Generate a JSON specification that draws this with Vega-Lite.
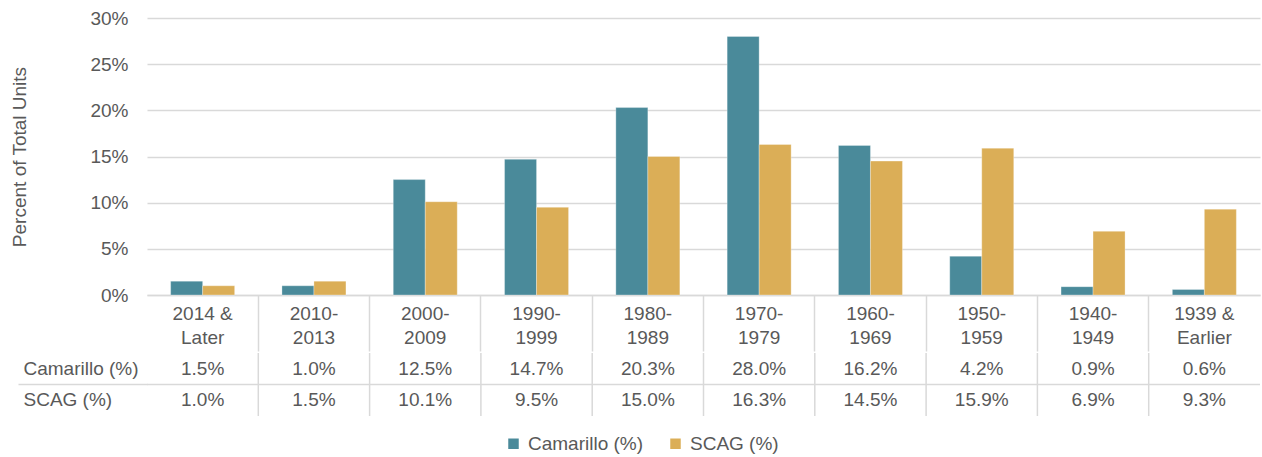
{
  "$schema": "https://vega.github.io/schema/vega-lite/v6.json",
  "padding": {"left": 10, "top": 9, "right": 0, "bottom": 0},
  "background": "white",
  "config": {"view": {"stroke": null}, "font": "Liberation Sans"},
  "data": {"values": [
    {"period": "2014 & Later", "series": "Camarillo (%)", "value": 0.015},
    {"period": "2010-2013", "series": "Camarillo (%)", "value": 0.010},
    {"period": "2000-2009", "series": "Camarillo (%)", "value": 0.125},
    {"period": "1990-1999", "series": "Camarillo (%)", "value": 0.147},
    {"period": "1980-1989", "series": "Camarillo (%)", "value": 0.203},
    {"period": "1970-1979", "series": "Camarillo (%)", "value": 0.280},
    {"period": "1960-1969", "series": "Camarillo (%)", "value": 0.162},
    {"period": "1950-1959", "series": "Camarillo (%)", "value": 0.042},
    {"period": "1940-1949", "series": "Camarillo (%)", "value": 0.009},
    {"period": "1939 & Earlier", "series": "Camarillo (%)", "value": 0.006},
    {"period": "2014 & Later", "series": "SCAG (%)", "value": 0.010},
    {"period": "2010-2013", "series": "SCAG (%)", "value": 0.015},
    {"period": "2000-2009", "series": "SCAG (%)", "value": 0.101},
    {"period": "1990-1999", "series": "SCAG (%)", "value": 0.095},
    {"period": "1980-1989", "series": "SCAG (%)", "value": 0.150},
    {"period": "1970-1979", "series": "SCAG (%)", "value": 0.163},
    {"period": "1960-1969", "series": "SCAG (%)", "value": 0.145},
    {"period": "1950-1959", "series": "SCAG (%)", "value": 0.159},
    {"period": "1940-1949", "series": "SCAG (%)", "value": 0.069},
    {"period": "1939 & Earlier", "series": "SCAG (%)", "value": 0.093}
  ]},
  "spacing": 0,
  "resolve": {"scale": {"x": "independent", "y": "independent", "color": "shared"}, "legend": {"color": "shared"}},
  "vconcat": [
    {
      "width": 1113,
      "height": 277,
      "mark": {"type": "bar", "stroke": "white", "strokeWidth": 0.5, "strokeOpacity": 0.6},
      "encoding": {
        "x": {
          "field": "period", "type": "nominal",
          "sort": ["2014 & Later", "2010-2013", "2000-2009", "1990-1999", "1980-1989", "1970-1979", "1960-1969", "1950-1959", "1940-1949", "1939 & Earlier"],
          "scale": {"paddingInner": 0, "paddingOuter": 0},
          "axis": {
            "title": null,
            "labelExpr": "length(datum.label) > 9 ? [substring(datum.label, 0, 6), substring(datum.label, 7)] : [substring(datum.label, 0, 5), substring(datum.label, 5)]",
            "labelAngle": 0, "labelFontSize": 19, "labelColor": "#595959", "labelLineHeight": 24,
            "labelPadding": -47, "labelOverlap": false,
            "bandPosition": 0, "tickSize": 56, "tickColor": "#d9d9d9", "tickWidth": 1.5,
            "tickOpacity": {"condition": {"test": "datum.value === '2014 & Later'", "value": 0}, "value": 1},
            "domainColor": "#d9d9d9", "domainWidth": 1.5
          }
        },
        "xOffset": {"field": "series", "type": "nominal", "sort": ["Camarillo (%)", "SCAG (%)"], "scale": {"paddingInner": 0, "paddingOuter": 0.739}},
        "y": {
          "field": "value", "type": "quantitative",
          "scale": {"domain": [0, 0.3]},
          "axis": {
            "values": [0, 0.05, 0.1, 0.15, 0.2, 0.25, 0.3], "format": ".0%",
            "title": "Percent of Total Units", "titleFontSize": 19, "titleFontWeight": "normal", "titleColor": "#595959", "titlePadding": 60,
            "domain": false, "ticks": false, "labelPadding": 19, "labelFontSize": 19, "labelColor": "#595959",
            "gridColor": "#d9d9d9", "gridWidth": 1.5
          }
        },
        "color": {
          "field": "series", "type": "nominal", "sort": ["Camarillo (%)", "SCAG (%)"],
          "scale": {"range": ["#4a8a9a", "#dbae57"]},
          "legend": {"orient": "none", "legendX": 357, "legendY": 416, "direction": "horizontal", "title": null, "symbolType": "square", "symbolSize": 110, "symbolStrokeWidth": 0, "labelFontSize": 19, "labelColor": "#595959", "columnPadding": 22, "labelOffset": 5}
        }
      }
    },
    {
      "width": 1113,
      "height": 63,
      "layer": [
        {
          "transform": [{"filter": "datum.series === 'Camarillo (%)' && datum.period !== '2014 & Later'"}],
          "mark": {"type": "rule", "color": "#d9d9d9", "strokeWidth": 1.5},
          "encoding": {
            "x": {"field": "period", "type": "nominal", "bandPosition": 0,
              "sort": ["2014 & Later", "2010-2013", "2000-2009", "1990-1999", "1980-1989", "1970-1979", "1960-1969", "1950-1959", "1940-1949", "1939 & Earlier"],
              "scale": {"type": "band", "paddingInner": 0, "paddingOuter": 0}, "axis": null}
          }
        },
        {
          "transform": [{"filter": "datum.series === 'SCAG (%)' && datum.period === '2014 & Later'"}],
          "mark": {"type": "rule", "color": "#d9d9d9", "strokeWidth": 1.5},
          "encoding": {
            "y": {"field": "series", "type": "nominal", "bandPosition": 0, "sort": ["Camarillo (%)", "SCAG (%)"],
              "scale": {"type": "band", "paddingInner": 0, "paddingOuter": 0}}
          }
        },
        {
          "mark": {"type": "text", "fontSize": 19, "color": "#595959", "baseline": "middle"},
          "encoding": {
            "x": {"field": "period", "type": "nominal",
              "sort": ["2014 & Later", "2010-2013", "2000-2009", "1990-1999", "1980-1989", "1970-1979", "1960-1969", "1950-1959", "1940-1949", "1939 & Earlier"],
              "scale": {"type": "band", "paddingInner": 0, "paddingOuter": 0}, "axis": null},
            "y": {"field": "series", "type": "nominal", "sort": ["Camarillo (%)", "SCAG (%)"],
              "scale": {"type": "band", "paddingInner": 0, "paddingOuter": 0},
              "axis": {
                "title": null, "domain": false, "bandPosition": 0, "tickSize": 129, "tickColor": "#d9d9d9", "tickWidth": 1.5,
                "tickOpacity": {"condition": {"test": "datum.value === 'Camarillo (%)'", "value": 0}, "value": 1},
                "labelAlign": "left", "labelBaseline": "middle", "labelPadding": -5, "labelFontSize": 19, "labelColor": "#595959"
              }
            },
            "text": {"field": "value", "type": "quantitative", "format": ".1%"}
          }
        }
      ]
    }
  ]
}
